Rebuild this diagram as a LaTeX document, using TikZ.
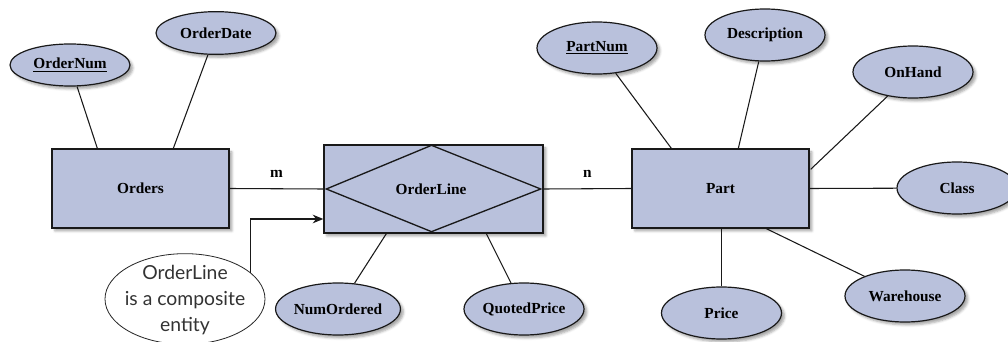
\documentclass[tikz,border=0pt]{standalone}
\usepackage{fontspec}
\setmainfont{Liberation Serif}
\newfontfamily\notefont{Lato}
\usetikzlibrary{shapes.geometric,calc,arrows.meta,shadows.blur}
\definecolor{erfill}{HTML}{B9C1DC}
\begin{document}
\begin{tikzpicture}[x=0.75pt,y=-0.75pt,
  shd/.style={blur shadow={shadow xshift=2.2pt,shadow yshift=-2.2pt,shadow blur radius=1.8pt,shadow opacity=35}},
  entity/.style={rectangle,draw=black!90,line width=1pt,fill=erfill,shd,inner sep=0pt,
     minimum width=132.75pt,minimum height=59.25pt,font=\bfseries\fontsize{11.5}{13}\selectfont},
  attr/.style={ellipse,draw=black!90,line width=0.9pt,fill=erfill,shd,inner sep=0pt,
     minimum width=90pt,minimum height=39pt,font=\bfseries\fontsize{11.5}{13}\selectfont},
  conn/.style={draw=black!90,line width=0.8pt},
  card/.style={font=\bfseries\fontsize{11.5}{13}\selectfont,inner sep=0pt}]
\useasboundingbox (0,0) rectangle (1008,342);
\clip (0,0) rectangle (1008,342);
% entities
\node[entity] (orders) at (140.5,188.5) {Orders};
\node[entity,minimum width=164.25pt,minimum height=66pt] (ol) at (433.5,189) {};
\node[entity] (part) at (720.5,188.5) {Part};
\draw[line width=1pt,black!90] ($(ol.west)+(3,0)$) -- ($(ol.north)+(-2,1)$) -- ($(ol.east)+(-3,0)$) -- ($(ol.south)+(-2,-2)$) -- cycle;
\node[font=\bfseries\fontsize{11.5}{13}\selectfont] (olt) at (431,189) {OrderLine};
% attributes
\node[attr,minimum height=31.5pt] (on) at (70,65) {\underline{OrderNum}};
\node[attr,minimum height=32pt] (od) at (216,33) {OrderDate};
\node[attr] (no) at (338,309) {NumOrdered};
\node[attr] (qp) at (524,309) {QuotedPrice};
\node[attr] (pn) at (597,48) {\underline{PartNum}};
\node[attr] (desc) at (765,35) {Description};
\node[attr] (oh) at (913,72) {OnHand};
\node[attr] (cls) at (957,188) {Class};
\node[attr] (wh) at (905,296) {Warehouse};
\node[attr] (pr) at (721.5,313) {Price};
% note
\node[ellipse,draw=black!85,line width=0.6pt,fill=white,minimum width=120pt,minimum height=68pt,inner sep=0pt] (note) at (185,299) {};
\node[align=center,inner sep=0pt,font=\notefont\fontsize{14.5}{19.5}\selectfont,text=black!80] (notetext) at ($(note.center)+(0,1)$)
  {OrderLine\\is a composite\\entity};
% connectors
\draw[conn] (on) -- ($(orders.north west)+(46,0)$);
\draw[conn] (od) -- ($(orders.north west)+(122,0)$);
\draw[conn] (orders.east) -- node[card,above=8pt] (m) {m} (ol.west);
\draw[conn] (ol.east) -- node[card,above=8pt] (n) {n} (part.west);
\draw[conn] (no) -- ($(ol.south west)+(63,0)$);
\draw[conn] (qp) -- ($(ol.south west)+(163,0)$);
\draw[conn] (pn) -- ($(part.north west)+(40,0)$);
\draw[conn] (desc) -- ($(part.north west)+(107,0)$);
\draw[conn] (oh) -- ($(part.north east)+(1,21)$);
\draw[conn] (part.east) -- (cls);
\draw[conn] (pr.north) -- (pr.north |- part.south);
\draw[conn] ($(part.south west)+(135,0)$) -- (wh);
\draw[conn,-{Stealth[length=8pt,width=6.5pt]}] (note.22) |- ($(ol.west)+(0,30)$);
\end{tikzpicture}
\end{document}
